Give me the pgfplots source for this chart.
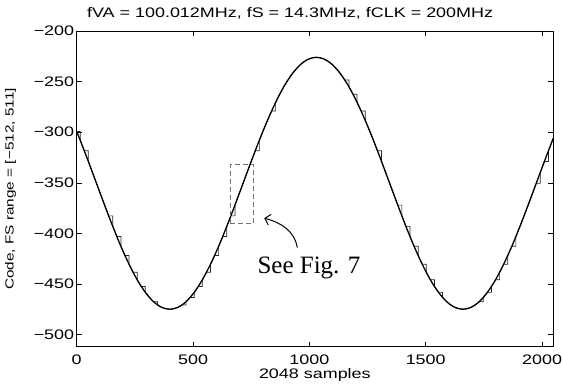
\documentclass[border=0pt]{standalone}
\usepackage{fontspec}
\setmainfont{Liberation Sans}[FakeStretch=1.3]
\newfontfamily\seriffont{Liberation Serif}
\usepackage{pgfplots}
\pgfplotsset{compat=1.18}
\usetikzlibrary{arrows.meta}
\begin{document}
\begin{tikzpicture}
\begin{axis}[
 name=ax, scale only axis, width=476.3bp, height=315.7bp,
 xmin=0, xmax=2047, ymin=-512, ymax=-200,
 xtick={0,500,1000,1500,2000}, xticklabels={0,500,1000,1500,2000},
 ytick={-500,-450,-400,-350,-300,-250,-200},
 yticklabels={−500,−450,−400,−350,−300,−250,−200},
 tick align=inside, major tick length=5bp,
 tick style={black, line width=0.5bp},
 axis line style={line width=0.8bp},
 ticklabel style={font=\fontsize{13.8bp}{16bp}\selectfont},
 xticklabel style={yshift=-5bp},
 yticklabel style={xshift=1bp},
 label style={font=\fontsize{13.8bp}{16bp}\selectfont},
 title style={font=\fontsize{13.8bp}{16bp}\selectfont, at={(axis description cs:0.448,1.037)}, anchor=center},
 title={fVA = 100.012MHz, fS = 14.3MHz, fCLK = 200MHz},
 xlabel={2048 samples},
 xlabel style={at={(axis description cs:0.5,-0.09)}, anchor=center},
 ylabel={Code, FS range = [−512, 511]},
 ylabel style={font=\fontsize{11.8bp}{14bp}\selectfont, at={(axis description cs:-0.139,0.5)}, anchor=center},
]
% tracked-and-held output
\addplot[black!85, line width=0.7bp] coordinates {
(0,-299.3) (15,-299.3) (15,-307.9) (32.5,-318.3) (50,-318.3) (50,-328.9)
(67.5,-339.7) (85,-350.5) (102.5,-361.3) (120,-372.1) (137.5,-382.7) (155,-382.7)
(155,-393.1) (172.5,-403.1) (190,-403.1) (190,-412.8) (207.5,-421.9) (225,-421.9)
(225,-430.5) (242.5,-438.5) (260,-438.5) (260,-445.9) (277.5,-452.5) (295,-452.5)
(295,-458.3) (312.5,-463.3) (330,-467.5) (347.5,-467.5) (347.5,-470.8) (365,-473.1)
(382.5,-474.5) (400,-475.0) (417.5,-474.5) (435,-473.1) (452.5,-470.8) (470,-470.8)
(470,-467.5) (487.5,-463.3) (505,-463.3) (505,-458.3) (522.5,-452.5) (540,-452.5)
(540,-445.9) (557.5,-438.5) (575,-438.5) (575,-430.5) (592.5,-421.9) (610,-421.9)
(610,-412.8) (627.5,-403.1) (645,-403.1) (645,-393.1) (662.5,-382.7) (680,-382.7)
(680,-372.1) (697.5,-361.3) (715,-350.5) (732.5,-339.7) (750,-328.9) (767.5,-318.3)
(785,-318.3) (785,-307.9) (802.5,-297.9) (820,-288.3) (837.5,-279.1) (855,-279.1)
(855,-270.5) (872.5,-262.5) (890,-255.1) (907.5,-248.5) (925,-242.7) (942.5,-237.7)
(960,-233.5) (977.5,-230.2) (995,-227.9) (1012.5,-226.5) (1030,-226.0) (1047.5,-226.5)
(1065,-227.9) (1082.5,-230.2) (1100,-233.5) (1117.5,-237.7) (1135,-242.7) (1152.5,-248.5)
(1170,-248.5) (1170,-255.1) (1187.5,-262.5) (1205,-262.5) (1205,-270.5) (1222.5,-279.1)
(1240,-279.1) (1240,-288.3) (1257.5,-297.9) (1275,-307.9) (1292.5,-318.3) (1310,-318.3)
(1310,-328.9) (1327.5,-339.7) (1345,-350.5) (1362.5,-361.3) (1380,-372.1) (1397.5,-372.1)
(1397.5,-382.7) (1415,-393.1) (1432.5,-393.1) (1432.5,-403.1) (1450,-412.8) (1467.5,-412.8)
(1467.5,-421.9) (1485,-430.5) (1502.5,-430.5) (1502.5,-438.5) (1520,-445.9) (1537.5,-445.9)
(1537.5,-452.5) (1555,-458.3) (1572.5,-458.3) (1572.5,-463.3) (1590,-467.5) (1607.5,-470.8)
(1625,-473.1) (1642.5,-474.5) (1660,-475.0) (1677.5,-474.5) (1695,-473.1) (1712.5,-470.8)
(1730,-467.5) (1747.5,-467.5) (1747.5,-463.3) (1765,-458.3) (1782.5,-458.3) (1782.5,-452.5)
(1800,-445.9) (1817.5,-445.9) (1817.5,-438.5) (1835,-430.5) (1852.5,-430.5) (1852.5,-421.9)
(1870,-412.8) (1887.5,-412.8) (1887.5,-403.1) (1905,-393.1) (1922.5,-382.7) (1940,-372.1)
(1957.5,-361.3) (1975,-350.5) (1992.5,-350.5) (1992.5,-339.7) (2010,-328.9) (2027.5,-328.9)
(2027.5,-318.3) (2045,-307.9) (2047,-306.8)
};
% input signal
\addplot[smooth, black, line width=1.3bp] coordinates {
(0,-299.3) (15,-307.9) (50,-328.9) (85,-350.5) (120,-372.1) (155,-393.1)
(190,-412.8) (225,-430.5) (260,-445.9) (295,-458.3) (330,-467.5) (365,-473.1)
(400,-475.0) (435,-473.1) (470,-467.5) (505,-458.3) (540,-445.9) (575,-430.5)
(610,-412.8) (645,-393.1) (680,-372.1) (715,-350.5) (750,-328.9) (785,-307.9)
(820,-288.3) (855,-270.5) (890,-255.1) (925,-242.7) (960,-233.5) (995,-227.9)
(1030,-226.0) (1065,-227.9) (1100,-233.5) (1135,-242.7) (1170,-255.1)
(1205,-270.5) (1240,-288.3) (1275,-307.9) (1310,-328.9) (1345,-350.5)
(1380,-372.1) (1415,-393.1) (1450,-412.8) (1485,-430.5) (1520,-445.9)
(1555,-458.3) (1590,-467.5) (1625,-473.1) (1660,-475.0) (1695,-473.1)
(1730,-467.5) (1765,-458.3) (1800,-445.9) (1835,-430.5) (1870,-412.8)
(1905,-393.1) (1940,-372.1) (1975,-350.5) (2010,-328.9) (2045,-307.9) (2047,-306.8)
};
% dashed zoom box
\addplot[black!55, line width=0.9bp, dash pattern=on 5bp off 3bp] coordinates {
(660,-390.5) (760,-390.5) (760,-332) (660,-332) (660,-390.5)
};
\draw[-{Straight Barb[length=5bp,width=11bp]}, line width=1bp]
  (axis cs:948,-414) to[out=100,in=-15] (axis cs:806,-385);
\node[font=\seriffont\fontsize{25bp}{30bp}\selectfont] at (axis cs:998,-434) {See Fig. 7};
\end{axis}
\path (ax.south west) ++(-76.7bp,-38.3bp) coordinate (bl);
\path (ax.north east) ++(10bp,31bp) coordinate (tr);
\pgfresetboundingbox
\path (bl) rectangle (tr);
\end{tikzpicture}
\end{document}
